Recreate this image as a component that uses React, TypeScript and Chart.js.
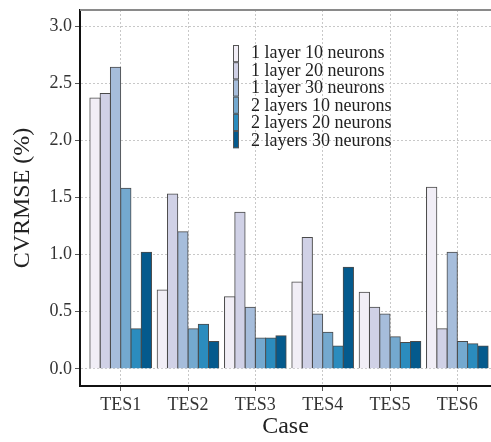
import React, { useEffect, useRef } from "react";
import { Chart, registerables } from "chart.js";

Chart.register(...registerables);

const CATEGORIES = ["TES1", "TES2", "TES3", "TES4", "TES5", "TES6"];
const SERIES_LABELS = [
  "1 layer 10 neurons",
  "1 layer 20 neurons",
  "1 layer 30 neurons",
  "2 layers 10 neurons",
  "2 layers 20 neurons",
  "2 layers 30 neurons",
];
const L1N10 = [2.37, 0.69, 0.63, 0.76, 0.67, 1.59];
const L1N20 = [2.41, 1.53, 1.37, 1.15, 0.54, 0.35];
const L1N30 = [2.64, 1.2, 0.54, 0.48, 0.48, 1.02];
const L2N10 = [1.58, 0.35, 0.27, 0.32, 0.28, 0.24];
const L2N20 = [0.35, 0.39, 0.27, 0.2, 0.23, 0.22];
const L2N30 = [1.02, 0.24, 0.29, 0.89, 0.24, 0.2];
const SERIES = [L1N10, L1N20, L1N30, L2N10, L2N20, L2N30];
const COLORS = ["#f1eef6", "#d0d1e6", "#a6bddb", "#74a9cf", "#2b8cbe", "#045a8d"];
const Y_TICKS = [0, 0.5, 1.0, 1.5, 2.0, 2.5, 3.0];

const FONT = '"Liberation Serif", "Times New Roman", serif';

const decorPlugin = {
  id: "decor",
  afterDraw(chart: any) {
    const { ctx, chartArea } = chart;
    ctx.save();
    // top frame line
    ctx.strokeStyle = "#8a8a8a";
    ctx.lineWidth = 2;
    ctx.beginPath();
    ctx.moveTo(chartArea.left, chartArea.top);
    ctx.lineTo(chartArea.right, chartArea.top);
    ctx.stroke();
    // legend
    const boxX = 233;
    const boxY = 45;
    const boxH = 17.2;
    const boxW = 6;
    ctx.font = `18px ${FONT}`;
    ctx.textBaseline = "middle";
    ctx.textAlign = "left";
    chart.data.datasets.forEach((ds: any, i: number) => {
      ctx.fillStyle = ds.backgroundColor;
      ctx.fillRect(boxX, boxY + i * boxH, boxW, boxH);
      ctx.strokeStyle = "#555";
      ctx.lineWidth = 1;
      ctx.strokeRect(boxX + 0.5, boxY + i * boxH + 0.5, boxW - 1, boxH - 1);
      ctx.fillStyle = "#222";
      ctx.fillText(ds.label, 251, boxY + boxH / 2 + i * 17.5);
    });
    ctx.restore();
  },
};

export default function App() {
  const ref = useRef<HTMLCanvasElement>(null);
  useEffect(() => {
    if (!ref.current) return;
    const chart = new Chart(ref.current, {
      type: "bar",
      data: {
        datasets: SERIES.map((vals, i) => ({
          label: SERIES_LABELS[i],
          data: vals.map((v, j) => ({ x: j + 1, y: v })),
          backgroundColor: COLORS[i],
          borderColor: "#4a4a4a",
          borderWidth: 1,
          borderSkipped: "bottom",
          inflateAmount: 0.5,
        })),
      },
      options: {
        responsive: false,
        animation: false,
        layout: { padding: { top: 10, right: 0, left: 0, bottom: 0 } },
        plugins: { legend: { display: false }, tooltip: { enabled: false } },
        datasets: { bar: { categoryPercentage: 0.915, barPercentage: 1.0 } },
        scales: {
          x: {
            type: "linear",
            offset: false,
            min: 0.396,
            max: 6.5,
            afterBuildTicks: (scale: any) => {
              scale.ticks = CATEGORIES.map((_, i) => ({ value: i + 1 }));
            },
            afterFit: (scale: any) => {
              scale.height = 56;
              scale.paddingLeft = 0;
              scale.paddingRight = 0;
            },
            ticks: {
              callback: (v: any) => CATEGORIES[Math.round(v) - 1] ?? "",
              font: { family: FONT, size: 18 },
              color: "#333",
              padding: 3,
              maxRotation: 0,
              autoSkip: false,
            },
            grid: { offset: false, color: "#c8c8c8", lineWidth: 1, tickLength: 5, tickColor: "#555" },
            border: { color: "#111", width: 2, dash: [2, 2] },
            title: {
              display: true,
              text: "Case",
              font: { family: FONT, size: 24 },
              color: "#222",
              padding: { top: 0, bottom: 1 },
            },
          },
          y: {
            min: -0.15,
            max: 3.14,
            afterBuildTicks: (scale: any) => {
              scale.ticks = Y_TICKS.map((v) => ({ value: v }));
            },
            afterFit: (scale: any) => {
              scale.width = 80;
              scale.paddingTop = 0;
              scale.paddingBottom = 0;
            },
            ticks: {
              callback: (v: any) => Number(v).toFixed(1),
              font: { family: FONT, size: 18 },
              color: "#333",
              padding: 3,
            },
            grid: { color: "#c8c8c8", lineWidth: 1, tickLength: 5, tickColor: "#555" },
            border: { color: "#111", width: 2, dash: [2, 2] },
            title: {
              display: true,
              text: "CVRMSE (%)",
              font: { family: FONT, size: 24 },
              color: "#222",
              padding: { top: 8, bottom: 0 },
            },
          },
        },
      } as any,
      plugins: [decorPlugin],
    });
    return () => chart.destroy();
  }, []);
  return (
    <div style={{ position: "fixed", left: 0, top: 0, width: 491, height: 442, background: "#fff" }}>
      <canvas ref={ref} width={491} height={442} style={{ display: "block", width: 491, height: 442 }} />
    </div>
  );
}
